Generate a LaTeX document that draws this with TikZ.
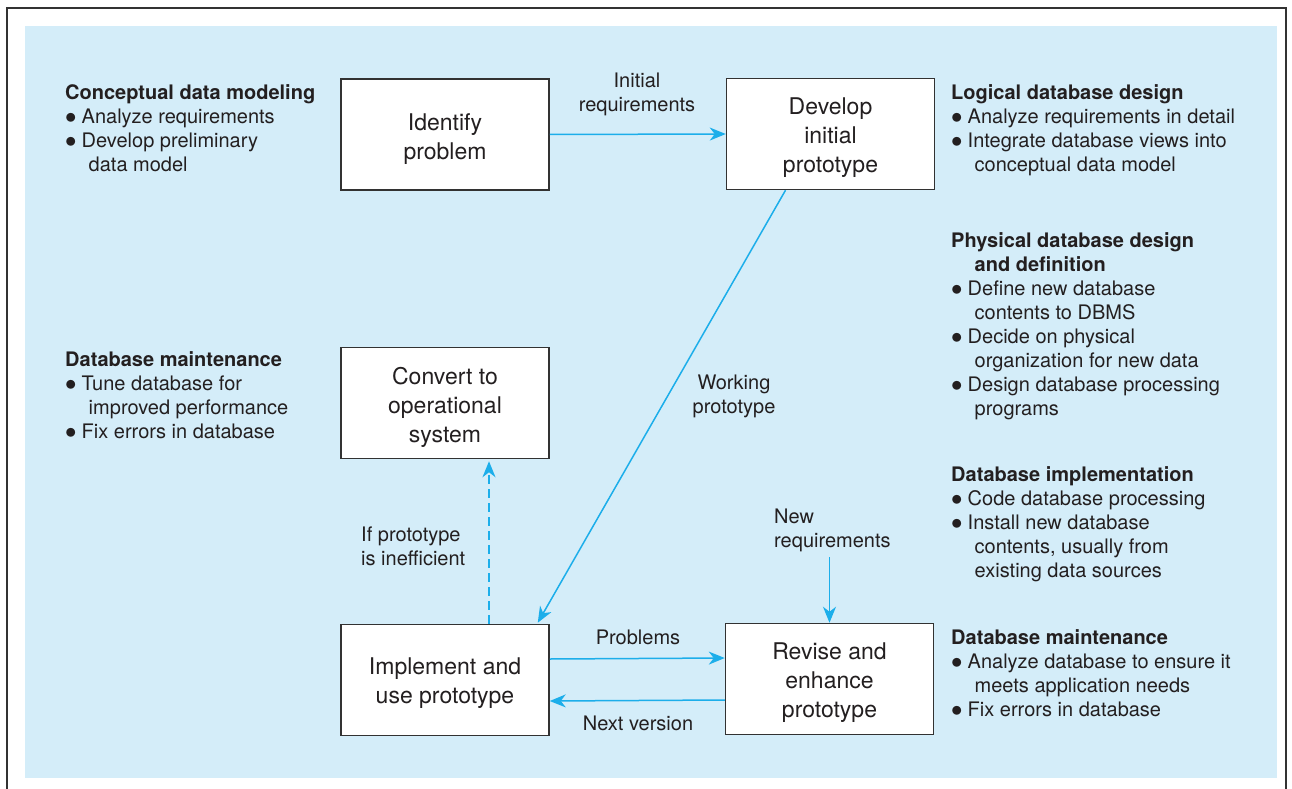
\documentclass[tikz,border=0pt]{standalone}
\usepackage{fontspec}
\setmainfont{TeX Gyre Heros}
\usetikzlibrary{arrows.meta,calc}
\definecolor{bgblue}{RGB}{212,237,249}
\definecolor{arrowblue}{RGB}{28,174,234}
\definecolor{txt}{RGB}{35,31,32}
\definecolor{framec}{RGB}{50,50,50}
\newcommand\mybul{\makebox[16.5pt][l]{\scalebox{1.1}{$\bullet$}}}
\newcommand\mycont{\hspace*{23.5pt}}
\begin{document}
\begin{tikzpicture}[x=1pt,y=-1pt,
  box/.style={draw=framec, line width=1.5pt, fill=white, minimum width=208pt, minimum height=111pt, inner sep=0pt},
  boxtxt/.style={align=center, inner sep=0pt, text=txt, font=\fontsize{23}{29}\selectfont},
  side/.style={anchor=north west, align=left, inner sep=0pt, text=txt, font=\fontsize{20}{24}\selectfont},
  lbl/.style={inner sep=0pt, text=txt, font=\fontsize{20}{24}\selectfont},
  flow/.style={draw=arrowblue, line width=1.5pt, -{Stealth[length=16pt,width=13pt,inset=5pt]}},
]
\useasboundingbox (0,0) rectangle (1292,789);
\fill[white] (0,0) rectangle (1292,789);
\draw[framec, line width=2.5pt] (7,792) -- (7,8) -- (1286,8) -- (1286,792);
\fill[bgblue] (25,26) rectangle (1277,778);

% side texts
\node[side] (cdm) at (65,84) {\textbf{Conceptual data modeling}\\ \mybul Analyze requirements\\ \mybul Develop preliminary\\ \mycont data model};
\node[side] (dbm1) at (65,351) {\textbf{Database maintenance}\\ \mybul Tune database for\\ \mycont improved performance\\ \mybul Fix errors in database};
\node[side] (ldd) at (951,84) {\textbf{Logical database design}\\ \mybul Analyze requirements in detail\\ \mybul Integrate database views into\\ \mycont conceptual data model};
\node[side] (pdd) at (951,232) {\textbf{Physical database design}\\ \mycont\textbf{and definition}\\ \mybul Define new database\\ \mycont contents to DBMS\\ \mybul Decide on physical\\ \mycont organization for new data\\ \mybul Design database processing\\ \mycont programs};
\node[side] (dbi) at (951,466) {\textbf{Database implementation}\\ \mybul Code database processing\\ \mybul Install new database\\ \mycont contents, usually from\\ \mycont existing data sources};
\node[side] (dbm2) at (951,629) {\textbf{Database maintenance}\\ \mybul Analyze database to ensure it\\ \mycont meets application needs\\ \mybul Fix errors in database};

% boxes
\node[box] (idp) at (445,134.5) {};
\node[box] (dip) at (830.5,134) {};
\node[box] (cos) at (445,403) {};
\node[box] (iup) at (445,680) {};
\node[box] (rep) at (829.5,679) {};
\node[boxtxt] (idpt) at ([yshift=-4.5pt]idp.center) {Identify\\problem};
\node[boxtxt] (dipt) at ([yshift=-4pt]dip.center) {Develop\\initial\\prototype};
\node[boxtxt] (cost) at ([yshift=-4pt]cos.center) {Convert to\\operational\\system};
\node[boxtxt] (iupt) at ([yshift=-3.5pt]iup.center) {Implement and\\use prototype};
\node[boxtxt] (rept) at ([yshift=-4pt]rep.center) {Revise and\\enhance\\prototype};

% connectors
\coordinate (nrq) at (829.5,557);
\draw[flow] (idp.east) -- (dip.west);
\draw[flow] ([xshift=-45pt]dip.south) -- ([xshift=-12pt,yshift=1pt]iup.north east);
\draw[flow, dash pattern=on 9pt off 5pt] ([xshift=44pt]iup.north) -- ([xshift=44pt,yshift=-2pt]cos.south);
\draw[flow] (nrq) -- (rep.north);
\draw[flow] ([yshift=21pt]iup.east) -- ([yshift=21pt]rep.west);
\draw[flow] ([yshift=-21pt]rep.west) -- ([yshift=-21pt]iup.east);

% labels
\node[lbl, anchor=north, align=center] (lir) at (637,73) {Initial\\requirements};
\node[lbl, anchor=north, align=center] (lwp) at (734,375) {Working\\prototype};
\node[lbl, anchor=north west, align=left] (lif) at (361,527) {If prototype\\is inefficient};
\node[lbl, anchor=north west, align=left] (lnr) at (774,509) {New\\requirements};
\node[lbl, anchor=north] (lpr) at (638,630) {Problems};
\node[lbl, anchor=north] (lnv) at (638,716) {Next version};
\end{tikzpicture}
\end{document}
